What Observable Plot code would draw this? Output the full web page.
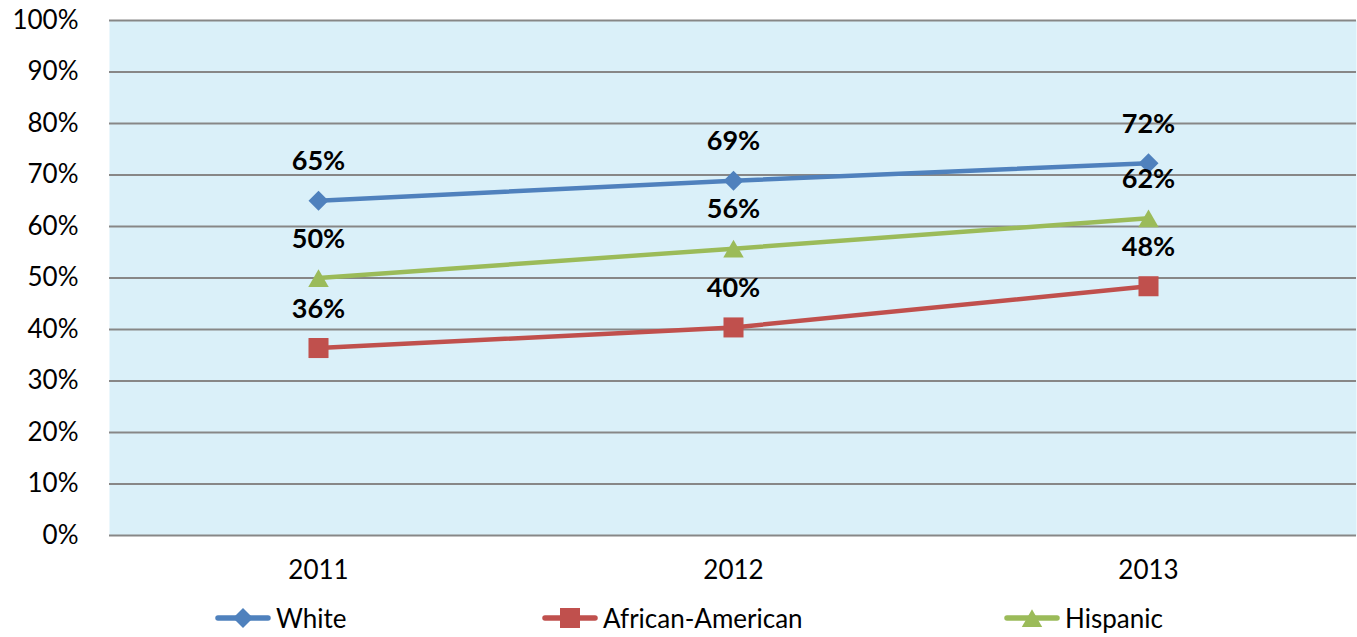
<!DOCTYPE html>
<html>
<head>
<meta charset="utf-8">
<script src="https://cdn.jsdelivr.net/npm/d3@7"></script>
<script src="https://cdn.jsdelivr.net/npm/@observablehq/plot@0.6"></script>
<style>
  html, body { margin: 0; padding: 0; background: #ffffff; }
  body { font-family: Lato, "Open Sans", sans-serif; width: 1357px; height: 637px; overflow: hidden; position: relative; }
  #legend { position: absolute; left: 0; top: 598px; width: 1357px; height: 40px; font-size: 26px; color: #000; }
  .item { position: absolute; top: 0; height: 40px; display: flex; align-items: center; gap: 5px; white-space: nowrap; }
  .item svg { display: block; }
</style>
</head>
<body>
<div id="chart"></div>
<div id="legend"></div>
<script>
// Categories and series values (shares, 0–1)
const years = ["2011", "2012", "2013"];
const white = [0.650, 0.689, 0.723];
const africanAmerican = [0.364, 0.404, 0.484];
const hispanic = [0.500, 0.557, 0.616];

const seriesNames = ["White", "African-American", "Hispanic"];
const seriesColors = ["#4F81BD", "#C0504D", "#9BBB59"];
const seriesSymbols = ["diamond2", "square", "triangle"];

// y-axis tick values
const yTicks = [0, 0.1, 0.2, 0.3, 0.4, 0.5, 0.6, 0.7, 0.8, 0.9, 1.0];

const seriesValues = [white, africanAmerican, hispanic];
const rows = seriesNames.flatMap((name, i) =>
  years.map((year, j) => ({ series: name, year, value: seriesValues[i][j] }))
);

const pct = (v) => Math.round(v * 100) + "%";

// marker radius per symbol, so all markers are about 20px across
const symbolR = { diamond2: 9, square: 11.3, triangle: 7.6 };
const symbolDy = { diamond2: 0, square: 0, triangle: 3 };

const dots = seriesNames.map((name, i) =>
  Plot.dot(rows.filter((d) => d.series === name), {
    x: "year", y: "value",
    symbol: () => seriesSymbols[i],
    r: symbolR[seriesSymbols[i]],
    dy: symbolDy[seriesSymbols[i]],
    fill: seriesColors[i], stroke: "none"
  })
);

const chart = Plot.plot({
  width: 1357,
  height: 598,
  marginLeft: 109,
  marginRight: 1,
  marginTop: 20,
  marginBottom: 63,
  style: { fontFamily: "Lato, 'Open Sans', sans-serif", fontSize: "26px", color: "#000", background: "#fff" },
  x: { type: "point", domain: years, padding: 0.5, label: null },
  y: { domain: [0, 1], label: null },
  color: { domain: seriesNames, range: seriesColors },
  symbol: { domain: seriesSymbols, range: seriesSymbols },
  marks: [
    Plot.frame({ fill: "#DAF0F9", stroke: "none" }),
    Plot.ruleY(yTicks, { stroke: "#878787", strokeWidth: 2 }),
    Plot.axisY({ ticks: yTicks, tickFormat: pct, tickSize: 0, tickPadding: 31, fill: "#000" }),
    Plot.axisX({ tickSize: 0, tickPadding: 25, fill: "#000" }),
    Plot.line(rows, { x: "year", y: "value", z: "series", stroke: "series", strokeWidth: 4.5 }),
    ...dots,
    Plot.text(rows, {
      x: "year", y: "value", text: (d) => pct(d.value),
      dy: -39, fontWeight: "bold", fontSize: 27, fill: "#000"
    })
  ]
});
document.getElementById("chart").appendChild(chart);

// Legend: line swatch with the series marker, then the series name
const legendLeft = [215, 542, 1004];
const legend = d3.select("#legend");
seriesNames.forEach((name, i) => {
  const item = legend.append("div").attr("class", "item").style("left", legendLeft[i] + "px");
  const sw = item.append("svg").attr("width", 56).attr("height", 24);
  sw.append("line").attr("x1", 3).attr("x2", 53).attr("y1", 12).attr("y2", 12)
    .attr("stroke", seriesColors[i]).attr("stroke-width", 5.5).attr("stroke-linecap", "round");
  const sym = { diamond2: d3.symbolDiamond2, square: d3.symbolSquare, triangle: d3.symbolTriangle }[seriesSymbols[i]];
  const size = { diamond2: 255, square: 400, triangle: 180 }[seriesSymbols[i]];
  sw.append("path").attr("d", d3.symbol(sym, size)())
    .attr("transform", `translate(28,${12 + symbolDy[seriesSymbols[i]]})`)
    .attr("fill", seriesColors[i]);
  item.append("span").text(name);
});
</script>
</body>
</html>
